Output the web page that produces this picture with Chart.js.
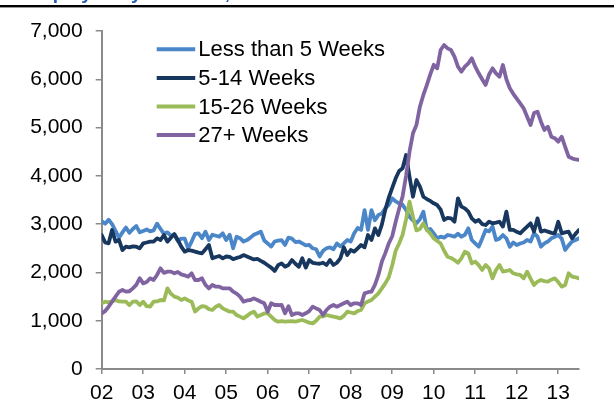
<!DOCTYPE html>
<html>
<head>
<meta charset="utf-8">
<script src="https://cdn.jsdelivr.net/npm/chart.js@4.4.0/dist/chart.umd.min.js"></script>
<style>
  html, body { margin: 0; padding: 0; background: #ffffff; }
  #wrap { width: 614px; height: 402px; position: relative; }
</style>
</head>
<body>
<div id="wrap"><canvas id="c" width="614" height="402"></canvas></div>
<script>
// ---- Data (thousands of persons, monthly, Jan 2002 - Jul 2013) ----
const tickLabels = ['02','03','04','05','06','07','08','09','10','11','12','13'];
const seriesNames = ['Less than 5 Weeks', '5-14 Weeks', '15-26 Weeks', '27+ Weeks'];
const titleText = 'Unemployed by Duration, Thousands';

const lessThan5Weeks = [
  3060, 3010, 3090, 3000, 2860, 2720, 2830, 2930, 2820, 2900, 2960, 2830,
  2860, 2890, 2850, 2870, 3010, 2900, 2800, 2830, 2760, 2780, 2650, 2700,
  2700, 2500, 2640, 2800, 2810, 2710, 2845, 2670, 2780, 2760, 2740, 2810,
  2670, 2780, 2500, 2740, 2710, 2640, 2670, 2720, 2780, 2810, 2845, 2660,
  2600, 2535, 2640, 2660, 2670, 2570, 2720, 2700, 2630, 2640, 2600, 2560,
  2570, 2500, 2480, 2330, 2450, 2500, 2520, 2480, 2600, 2540, 2600, 2672,
  2640, 2810, 2920, 2880, 3290, 2880, 3290, 3080, 3190, 3220, 3330, 3400,
  3535, 3470, 3431, 3400, 3293, 3150, 3080, 3020, 3100, 3258, 2880, 2900,
  2810, 2707, 2740, 2720, 2775, 2760, 2740, 2800, 2740, 2780, 2913, 2672,
  2600, 2533, 2700, 2880, 2850, 2950, 2672, 2700, 2775, 2707, 2533, 2620,
  2568, 2600, 2620, 2672, 2640, 2810, 2740, 2533, 2600, 2640, 2707, 2740,
  2775, 2700, 2465, 2560, 2640, 2672, 2707
];
const weeks5to14 = [
  2775, 2620, 2603, 2879, 2637, 2672, 2464, 2533, 2520, 2540, 2533, 2500,
  2603, 2620, 2637, 2640, 2706, 2672, 2775, 2637, 2720, 2795, 2672, 2533,
  2430, 2464, 2450, 2430, 2410, 2395, 2480, 2568, 2292, 2320, 2340, 2292,
  2330, 2320, 2275, 2300, 2320, 2360, 2330, 2300, 2270, 2280, 2240, 2200,
  2150, 2100, 2030, 2150, 2188, 2119, 2154, 2257, 2180, 2119, 2292, 2100,
  2257, 2200, 2188, 2180, 2200, 2154, 2257, 2154, 2200, 2292, 2520, 2361,
  2464, 2430, 2500, 2568, 2520, 2775, 2672, 2913, 2775, 2990, 3300, 3550,
  3750, 3950, 4100, 4156, 4432, 3983, 3568, 3914, 3776, 3568, 3520, 3480,
  3431, 3396, 3300, 3086, 3130, 3120, 3050, 3535, 3362, 3327, 3258, 3120,
  3050, 3086, 3000, 2982, 3050, 3017, 3030, 3050, 2950, 3258, 2880, 2880,
  2840, 2810, 2880, 2950, 3017, 2845, 3120, 2845, 2870, 2845, 2820, 2810,
  3050, 2810, 2830, 2845, 2707, 2800, 2880
];
const weeks15to26 = [
  1360, 1394, 1380, 1400, 1429, 1400, 1394, 1394, 1325, 1394, 1400, 1325,
  1394, 1300, 1291, 1394, 1400, 1429, 1420, 1670, 1560, 1498, 1480, 1429,
  1463, 1420, 1394, 1190, 1256, 1300, 1291, 1240, 1222, 1291, 1325, 1256,
  1220, 1187, 1187, 1118, 1084, 1049, 1100, 1153, 1187, 1084, 1118, 1150,
  1153, 1084, 1015, 980, 990, 980, 985, 990, 980, 1000, 1015, 990,
  960, 945, 1000, 1084, 1090, 1118, 1100, 1084, 1070, 1049, 1100, 1187,
  1170, 1153, 1200, 1222, 1360, 1400, 1429, 1500, 1567, 1670, 1774, 1900,
  2150, 2450, 2600, 2780, 3100, 3465, 3150, 2870, 2900, 3017, 2880, 2810,
  2707, 2650, 2600, 2450, 2326, 2300, 2257, 2200, 2292, 2430, 2395, 2188,
  2223, 2150, 2050, 2154, 2085, 1878, 2050, 2154, 2016, 2030, 2050, 1982,
  1960, 1947, 1878, 2016, 1870, 1740, 1809, 1843, 1820, 1809, 1850, 1878,
  1800, 1705, 1740, 1982, 1913, 1900, 1878
];
const weeks27plus = [
  1153, 1200, 1290, 1394, 1498, 1600, 1636, 1602, 1610, 1670, 1740, 1880,
  1774, 1800, 1878, 1843, 1947, 2085, 1990, 2016, 2016, 1982, 2010, 1960,
  1940, 1912, 1982, 1843, 1843, 1878, 1740, 1670, 1740, 1705, 1705, 1670,
  1670, 1670, 1602, 1560, 1498, 1394, 1420, 1429, 1463, 1430, 1394, 1360,
  1187, 1360, 1325, 1325, 1330, 1153, 1300, 1118, 1150, 1153, 1118, 1153,
  1200, 1291, 1256, 1222, 1118, 1222, 1291, 1325, 1291, 1325, 1360, 1394,
  1325, 1360, 1360, 1325, 1567, 1590, 1602, 1740, 1947, 2223, 2400, 2603,
  2750, 3050, 3320, 3580, 4000, 4500, 4881, 5053, 5432, 5675, 5880, 6100,
  6300, 6227, 6606, 6710, 6640, 6606, 6468, 6261, 6157, 6261, 6330, 6434,
  6261, 6124, 6000, 5882, 6100, 6227, 6124, 6053, 6296, 6000, 5813, 5700,
  5600, 5500, 5399, 5225, 5053, 5300, 5330, 5122, 4950, 5018, 4811, 4780,
  4708, 4811, 4600, 4397, 4363, 4340, 4329
];

const allSeries = [lessThan5Weeks, weeks5to14, weeks15to26, weeks27plus];
const seriesColors = ['#4A86C8', '#17375E', '#9BBB59', '#8064A2'];
const FONT = '"Liberation Sans", Arial, Helvetica, sans-serif';

// month position in years since Jan 2002
const toPoints = arr => arr.map((v, i) => ({ x: i / 12, y: v }));

const overlay = {
  id: 'overlay',
  afterDraw(chart) {
    const c = chart.ctx;
    const a = chart.chartArea;
    c.save();
    // cut-off title and rule at top
    c.fillStyle = '#1F5BB5';
    c.font = 'bold 19px ' + FONT;
    c.textBaseline = 'alphabetic';
    c.textAlign = 'left';
    c.fillText(titleText, 0, -1.5);
    c.fillStyle = '#000000';
    c.fillRect(0, 5, 614, 2.4);
    // legend
    c.font = '22px ' + FONT;
    c.textBaseline = 'middle';
    chart.data.datasets.forEach((ds, k) => {
      const y = a.top + 18.3 + k * 28.6;
      c.strokeStyle = ds.borderColor;
      c.lineWidth = 4;
      c.lineCap = 'butt';
      c.beginPath();
      c.moveTo(a.left + 55, y);
      c.lineTo(a.left + 93.5, y);
      c.stroke();
      c.fillStyle = '#000000';
      c.fillText(ds.label, a.left + 96.6, y + 1);
    });
    c.restore();
  }
};

new Chart(document.getElementById('c').getContext('2d'), {
  type: 'line',
  data: {
    datasets: allSeries.map((s, k) => ({
      label: seriesNames[k],
      data: toPoints(s),
      borderColor: seriesColors[k],
      backgroundColor: seriesColors[k],
      borderWidth: 3.8,
      pointRadius: 0,
      tension: 0,
      fill: false,
      borderJoinStyle: 'round',
      borderCapStyle: 'round',
      order: 4 - k
    }))
  },
  options: {
    responsive: false,
    animation: false,
    devicePixelRatio: 1,
    layout: { padding: { top: 31, right: 35, left: 0, bottom: 0 } },
    plugins: { legend: { display: false }, tooltip: { enabled: false }, title: { display: false } },
    scales: {
      x: {
        type: 'linear',
        min: 0,
        max: (lessThan5Weeks.length - 1) / 12,
        afterFit(s) { s.height = 33; },
        grid: { drawOnChartArea: false, drawTicks: true, tickLength: 5, color: '#8a8a8a', lineWidth: 1.5 },
        border: { display: true, color: '#8a8a8a', width: 2 },
        ticks: {
          stepSize: 1, includeBounds: false, autoSkip: false, maxRotation: 0, minRotation: 0,
          padding: 7, color: '#000000',
          font: { family: FONT, size: 21 },
          callback: v => (tickLabels[v] !== undefined ? tickLabels[v] : '')
        }
      },
      y: {
        min: 0,
        max: 7000,
        afterFit(s) { s.width = 101.7; },
        grid: { drawOnChartArea: false, drawTicks: true, tickLength: 6, color: '#8a8a8a', lineWidth: 1.5 },
        border: { display: true, color: '#8a8a8a', width: 2 },
        ticks: {
          stepSize: 1000, padding: 13, color: '#000000',
          font: { family: FONT, size: 21 },
          callback: v => v.toLocaleString('en-US')
        }
      }
    }
  },
  plugins: [overlay]
});
</script>
</body>
</html>
